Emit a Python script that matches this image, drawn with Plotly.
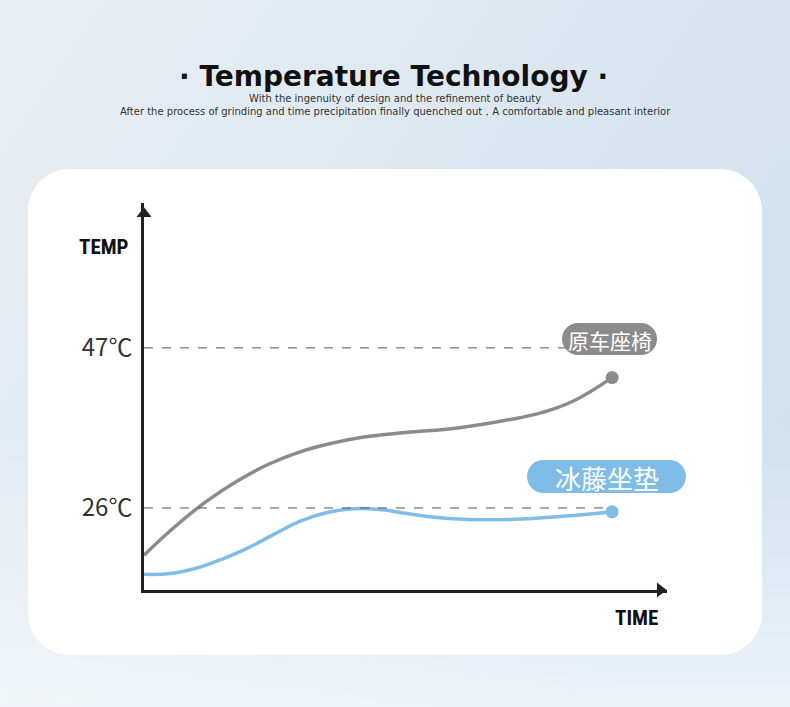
import base64
import plotly.graph_objects as go

W, H = 790, 707

# Curve samples (time 0..100, temperature in C)
seat_time = [0, 6, 12, 18, 24, 30, 36, 42, 50, 60, 70, 76, 82, 89.5]
seat_temp = [19.8, 23.6, 26.9, 29.6, 31.8, 33.4, 34.5, 35.3, 35.9, 36.5, 37.6, 38.5, 40.0, 43.1]

cushion_time = [0, 5, 10, 15, 20, 25, 30, 35, 40, 45, 50, 55, 62, 70, 80, 89.5]
cushion_temp = [17.3, 17.4, 18.1, 19.3, 20.8, 22.6, 24.3, 25.4, 25.9, 25.8, 25.3, 24.8, 24.5, 24.5, 24.9, 25.5]

ref_temps = [47, 26]
ref_labels = ["47℃", "26℃"]
ref_line_end = [80.5, 89.5]   # where the dashed guides stop

series_names = ["原车座椅", "冰藤坐垫"]
gray = "#8b8b8b"
blue = "#7fbde8"

X_RANGE = [0, 100]
Y_RANGE = [15.24, 66]


def px(x):
    return x / W


def py(y):
    return 1 - y / H


def pill(x0, y0, x1, y1):
    # rounded capsule, pixel coords -> paper path
    r = (y1 - y0) / 2
    k = 0.5523 * r
    cy = (y0 + y1) / 2
    pts = [
        ("M", [(x0 + r, y0)]),
        ("L", [(x1 - r, y0)]),
        ("C", [(x1 - r + k, y0), (x1, cy - k), (x1, cy)]),
        ("C", [(x1, cy + k), (x1 - r + k, y1), (x1 - r, y1)]),
        ("L", [(x0 + r, y1)]),
        ("C", [(x0 + r - k, y1), (x0, cy + k), (x0, cy)]),
        ("C", [(x0, cy - k), (x0 + r - k, y0), (x0 + r, y0)]),
    ]
    out = ""
    for cmd, ps in pts:
        out += cmd + " ".join(f"{px(a):.5f},{py(b):.5f}" for a, b in ps) + " "
    return out + "Z"


def round_rect(x0, y0, x1, y1, r):
    k = 0.5523 * r
    segs = [
        f"M{px(x0 + r)},{py(y0)}",
        f"L{px(x1 - r)},{py(y0)}",
        f"C{px(x1 - r + k)},{py(y0)} {px(x1)},{py(y0 + r - k)} {px(x1)},{py(y0 + r)}",
        f"L{px(x1)},{py(y1 - r)}",
        f"C{px(x1)},{py(y1 - r + k)} {px(x1 - r + k)},{py(y1)} {px(x1 - r)},{py(y1)}",
        f"L{px(x0 + r)},{py(y1)}",
        f"C{px(x0 + r - k)},{py(y1)} {px(x0)},{py(y1 - r + k)} {px(x0)},{py(y1 - r)}",
        f"L{px(x0)},{py(y0 + r)}",
        f"C{px(x0)},{py(y0 + r - k)} {px(x0 + r - k)},{py(y0)} {px(x0 + r)},{py(y0)}",
    ]
    return " ".join(segs) + " Z"


def label(x, y, text, size, color="#111111", family="DejaVu Sans"):
    fig.add_annotation(x=px(x), y=py(y), xref="paper", yref="paper", text=text,
                       showarrow=False, xanchor="center", yanchor="middle",
                       font=dict(family=family, size=size, color=color))


# soft blue background gradient as an inline svg
svg = f"""<svg xmlns='http://www.w3.org/2000/svg' width='{W}' height='{H}' preserveAspectRatio='none'>
<defs><linearGradient id='g' x1='0' y1='0' x2='1' y2='0.6'>
<stop offset='0' stop-color='#e9eff3'/><stop offset='0.55' stop-color='#dbe7f0'/>
<stop offset='1' stop-color='#cfe1ef'/></linearGradient>
<linearGradient id='v' x1='0' y1='0' x2='0' y2='1'>
<stop offset='0.6' stop-color='#ffffff' stop-opacity='0'/>
<stop offset='1' stop-color='#ffffff' stop-opacity='0.6'/></linearGradient></defs>
<rect width='100%' height='100%' fill='url(#g)'/>
<rect width='100%' height='100%' fill='url(#v)'/></svg>"""
bg_src = "data:image/svg+xml;base64," + base64.b64encode(svg.encode()).decode()

fig = go.Figure()

# dashed reference lines
for t, xe in zip(ref_temps, ref_line_end):
    fig.add_shape(type="line", x0=0, x1=xe, y0=t, y1=t, xref="x", yref="y",
                  line=dict(color="#555555", width=1, dash="dash"))

fig.add_trace(go.Scatter(x=seat_time, y=seat_temp, mode="lines",
                         line=dict(color=gray, width=3.5, shape="spline", smoothing=1.2),
                         name=series_names[0], hoverinfo="skip"))
fig.add_trace(go.Scatter(x=cushion_time, y=cushion_temp, mode="lines",
                         line=dict(color=blue, width=3.5, shape="spline", smoothing=1.2),
                         name=series_names[1], hoverinfo="skip"))
# end dots
fig.add_trace(go.Scatter(x=[seat_time[-1]], y=[seat_temp[-1]], mode="markers",
                         marker=dict(color=gray, size=13), hoverinfo="skip"))
fig.add_trace(go.Scatter(x=[cushion_time[-1]], y=[cushion_temp[-1]], mode="markers",
                         marker=dict(color=blue, size=13), hoverinfo="skip"))
# axis arrow heads
fig.add_trace(go.Scatter(x=[X_RANGE[0]], y=[Y_RANGE[1] - 1.4], mode="markers", cliponaxis=False,
                         marker=dict(symbol="triangle-up", color="#222222", size=13), hoverinfo="skip"))
fig.add_trace(go.Scatter(x=[X_RANGE[1] - 1.3], y=[Y_RANGE[0]], mode="markers", cliponaxis=False,
                         marker=dict(symbol="triangle-right", color="#222222", size=13), hoverinfo="skip"))

# white card
fig.add_shape(type="path", path=round_rect(28, 169, 762, 655, 42), xref="paper", yref="paper",
              fillcolor="white", line=dict(width=0), layer="below")

# label pills
fig.add_shape(type="path", path=pill(562, 323, 657, 355), xref="paper", yref="paper",
              fillcolor=gray, line=dict(width=0))
fig.add_shape(type="path", path=pill(527, 460, 686, 493), xref="paper", yref="paper",
              fillcolor=blue, line=dict(width=0))
label(609.5, 340, series_names[0], 21, "white", "Noto Sans CJK SC")
label(606.5, 477, series_names[1], 26, "white", "Noto Sans CJK SC")

# axis titles
label(104, 247, "<b>TEMP</b>", 21, family="Liberation Sans Narrow, Roboto Condensed, Roboto")
label(636, 618, "<b>TIME</b>", 21, family="Liberation Sans Narrow, Roboto Condensed, Roboto")

# headline
label(393, 77, "<b>· Temperature Technology ·</b>", 28)
label(395, 105.5,
      "With the ingenuity of design and the refinement of beauty<br>"
      "After the process of grinding and time precipitation finally quenched out，A comfortable and pleasant interior",
      10, "#333333")

fig.update_layout(
    width=W, height=H,
    margin=dict(l=0, r=0, t=0, b=0),
    paper_bgcolor="#dde8f0",
    plot_bgcolor="rgba(0,0,0,0)",
    showlegend=False,
    images=[dict(source=bg_src, xref="paper", yref="paper", x=0, y=1, sizex=1, sizey=1,
                 xanchor="left", yanchor="top", sizing="stretch", layer="below")],
    xaxis=dict(domain=[px(144), px(667)], range=X_RANGE, showgrid=False, zeroline=False,
               showticklabels=False, showline=True, linecolor="#222222", linewidth=2.5,
               fixedrange=True),
    yaxis=dict(domain=[py(590), py(203)], range=Y_RANGE, showgrid=False, zeroline=False,
               tickvals=ref_temps, ticktext=ref_labels, ticks="", ticklabelstandoff=4,
               tickfont=dict(family="Noto Sans CJK SC", size=24, color="#333333"),
               showline=True, linecolor="#222222", linewidth=2.5, fixedrange=True),
)

fig.write_html("out.html", config={"displayModeBar": False},
               post_script="document.body.style.margin='0';document.body.style.overflow='hidden';")
